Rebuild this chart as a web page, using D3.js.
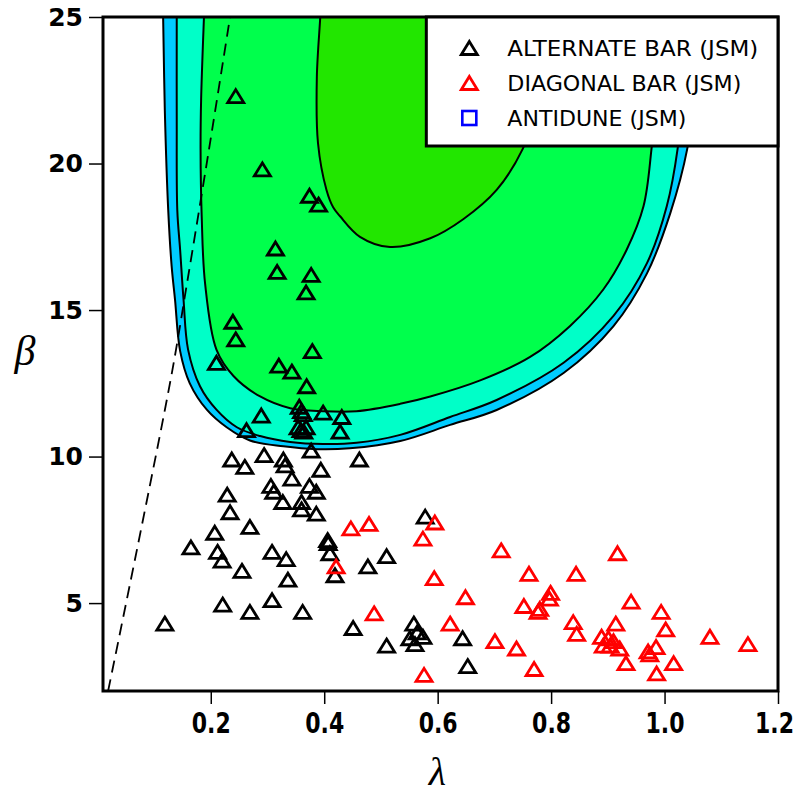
<!DOCTYPE html>
<html>
<head>
<meta charset="utf-8">
<script src="https://cdn.jsdelivr.net/npm/d3@7"></script>
<style>
  body { margin: 0; background: #fff; }
</style>
</head>
<body>
<div class="canvas"></div>
<script>
// ---- data (lambda, beta) ----
const alternateBar = [
  [0.244, 22.3], [0.291, 19.8], [0.374, 18.9], [0.390, 18.6], [0.314, 17.1],
  [0.317, 16.3], [0.377, 16.2], [0.368, 15.6], [0.239, 14.6], [0.244, 14.0],
  [0.210, 13.2], [0.379, 13.6], [0.320, 13.1], [0.343, 12.9], [0.369, 12.4],
  [0.289, 11.4], [0.263, 10.9], [0.356, 11.7], [0.360, 11.55], [0.363, 11.45],
  [0.398, 11.5], [0.431, 11.35], [0.428, 10.85], [0.354, 11.0], [0.359, 10.9],
  [0.364, 10.85], [0.368, 11.0], [0.377, 10.2], [0.237, 9.9], [0.260, 9.65],
  [0.294, 10.05], [0.328, 9.9], [0.331, 9.7], [0.343, 9.25], [0.462, 9.9],
  [0.394, 9.55], [0.306, 9.0], [0.311, 8.8], [0.327, 8.45], [0.374, 9.0],
  [0.386, 8.8], [0.360, 8.45], [0.360, 8.2], [0.386, 8.05], [0.229, 8.7],
  [0.234, 8.1], [0.269, 7.6], [0.207, 7.4], [0.165, 6.9], [0.212, 6.75],
  [0.220, 6.45], [0.255, 6.1], [0.308, 6.75], [0.333, 6.5], [0.336, 5.8],
  [0.406, 7.15], [0.407, 7.05], [0.410, 6.7], [0.419, 5.95], [0.477, 6.25],
  [0.510, 6.6], [0.578, 7.95], [0.221, 4.95], [0.269, 4.7], [0.308, 5.1],
  [0.362, 4.7], [0.119, 4.3], [0.451, 4.15], [0.510, 3.55], [0.558, 4.3],
  [0.564, 4.0], [0.574, 3.85], [0.551, 3.8], [0.560, 3.6], [0.644, 3.8],
  [0.653, 2.85]
];
const diagonalBar = [
  [0.421, 6.25], [0.447, 7.55], [0.479, 7.7], [0.595, 7.75], [0.574, 7.2],
  [0.594, 5.85], [0.488, 4.65], [0.576, 2.55], [0.622, 4.3], [0.649, 5.2],
  [0.701, 3.7], [0.712, 6.8], [0.739, 3.45], [0.752, 4.9], [0.761, 6.0],
  [0.770, 2.75], [0.777, 4.7], [0.780, 4.8], [0.799, 5.35], [0.797, 5.15],
  [0.839, 4.35], [0.844, 6.0], [0.845, 3.95], [0.889, 3.85], [0.901, 3.8],
  [0.910, 3.7], [0.892, 3.55], [0.904, 3.55], [0.921, 3.45], [0.914, 4.3],
  [0.917, 6.7], [0.941, 5.05], [0.932, 2.95], [0.971, 3.35], [0.974, 3.25],
  [0.985, 3.5], [0.986, 2.6], [0.994, 4.7], [1.002, 4.1], [1.016, 2.95],
  [1.080, 3.85], [1.147, 3.6]
];
const antidune = []; // none fall inside the plotted window

// contour boundaries, traced from the top-left branch round to the top-right branch
const contourOuter = [
  [0.115, 25.5], [0.116, 25.0], [0.119, 21.8], [0.125, 18.4], [0.131, 16.5],
  [0.137, 15.35], [0.146, 13.6], [0.163, 12.5], [0.193, 11.6], [0.228, 11.0],
  [0.269, 10.55], [0.328, 10.35], [0.387, 10.25], [0.445, 10.28], [0.534, 10.53],
  [0.622, 11.08], [0.704, 11.59], [0.822, 12.85], [0.910, 14.45], [0.969, 16.25],
  [1.010, 18.3], [1.040, 20.5], [1.055, 22.85], [1.064, 25.0], [1.068, 25.5]
];
const contourBlueCyan = [
  [0.140, 25.5], [0.140, 25.0], [0.140, 21.5], [0.141, 18.4], [0.146, 17.05],
  [0.152, 15.35], [0.160, 13.65], [0.181, 12.4], [0.210, 11.6], [0.246, 11.0],
  [0.287, 10.7], [0.340, 10.5], [0.398, 10.43], [0.457, 10.47], [0.534, 10.74],
  [0.622, 11.35], [0.704, 11.93], [0.822, 13.2], [0.910, 14.8], [0.969, 16.6],
  [1.004, 18.55], [1.023, 20.5], [1.034, 22.85], [1.041, 25.0], [1.044, 25.5]
];
const contourCyanGreen = [
  [0.189, 25.5], [0.188, 25.0], [0.183, 22.2], [0.182, 20.5], [0.184, 18.2],
  [0.190, 15.9], [0.210, 13.65], [0.240, 12.75], [0.287, 12.05], [0.340, 11.65],
  [0.398, 11.55], [0.457, 11.55], [0.534, 11.8], [0.587, 12.05], [0.675, 12.6],
  [0.763, 13.4], [0.833, 14.45], [0.892, 15.7], [0.933, 17.05], [0.963, 18.55],
  [0.977, 20.5], [0.988, 22.85], [0.996, 25.0], [0.998, 25.5]
];
const contourInner = [
  [0.394, 25.5], [0.393, 25.0], [0.387, 22.95], [0.389, 20.7], [0.404, 19.1],
  [0.416, 18.5], [0.428, 18.2], [0.463, 17.5], [0.516, 17.15], [0.587, 17.45],
  [0.645, 18.1], [0.704, 19.1], [0.750, 20.5], [0.780, 22.2], [0.798, 23.9],
  [0.807, 25.0], [0.810, 25.5]
];
const dashedCurve = [
  [0.019, 2.0], [0.129, 12.6], [0.158, 15.9], [0.197, 20.5], [0.234, 25.0]
];

const xTicks = [0.2, 0.4, 0.6, 0.8, 1.0, 1.2];
const yTicks = [5, 10, 15, 20, 25];
const legendLabels = ['ALTERNATE BAR (JSM)', 'DIAGONAL BAR (JSM)', 'ANTIDUNE (JSM)'];
const legendWidths = [251, 234, 179];

// ---- layout ----
const margin = { top: 17, right: 18, bottom: 110, left: 103 };
const graphWidth = 796 - margin.left - margin.right;   // 675
const graphHeight = 801 - margin.top - margin.bottom;  // 674

const svg = d3.select('.canvas')
  .append('svg')
  .attr('width', 796)
  .attr('height', 801);

const graph = svg.append('g')
  .attr('transform', `translate(${margin.left},${margin.top})`);

const xScale = d3.scaleLinear().domain([0.01, 1.2]).range([0, graphWidth]);
const yScale = d3.scaleLinear().domain([2, 25]).range([graphHeight, 0]);

svg.append('defs').append('clipPath').attr('id', 'plot-clip')
  .append('rect').attr('width', graphWidth).attr('height', graphHeight);

const plot = graph.append('g').attr('clip-path', 'url(#plot-clip)');

// filled contour bands
const curve = d3.line()
  .x(d => xScale(d[0]))
  .y(d => yScale(d[1]))
  .curve(d3.curveCatmullRom.alpha(0.5));

const bands = [
  { pts: contourOuter, fill: '#00ccff' },
  { pts: contourBlueCyan, fill: '#00ffc8' },
  { pts: contourCyanGreen, fill: '#00ff4c' },
  { pts: contourInner, fill: '#22e600' }
];
plot.selectAll('path.band')
  .data(bands)
  .enter()
  .append('path')
  .attr('class', 'band')
  .attr('d', d => curve(d.pts) + 'Z')
  .attr('fill', d => d.fill)
  .attr('stroke', '#000')
  .attr('stroke-width', 2);

// dashed boundary
plot.append('path')
  .attr('d', curve(dashedCurve))
  .attr('fill', 'none')
  .attr('stroke', '#000')
  .attr('stroke-width', 1.8)
  .attr('stroke-dasharray', '12,7');

// open triangle marker, centred on its bounding box
const tri = (w, h) => `M0,${-h / 2}L${w / 2},${h / 2}L${-w / 2},${h / 2}Z`;

const drawPoints = (data, colour) => {
  plot.append('g').selectAll('path')
    .data(data)
    .enter()
    .append('path')
    .attr('d', tri(16, 13))
    .attr('transform', d => `translate(${xScale(d[0])},${yScale(d[1])})`)
    .attr('fill', 'none')
    .attr('stroke', colour)
    .attr('stroke-width', 2.8);
};
drawPoints(alternateBar, '#000');
drawPoints(diagonalBar, '#ff0000');
plot.append('g').selectAll('rect')
  .data(antidune)
  .enter()
  .append('rect')
  .attr('x', d => xScale(d[0]) - 7).attr('y', d => yScale(d[1]) - 7)
  .attr('width', 14).attr('height', 14)
  .attr('fill', 'none').attr('stroke', '#0000ff').attr('stroke-width', 2.6);

// axes
const xAxis = d3.axisBottom(xScale).tickValues(xTicks).tickSize(13).tickPadding(6)
  .tickFormat(d3.format('.1f'));
const yAxis = d3.axisLeft(yScale).tickValues(yTicks).tickSize(14).tickPadding(6)
  .tickFormat(d3.format('d'));

const xAxisGroup = graph.append('g')
  .attr('transform', `translate(0,${graphHeight})`)
  .call(xAxis);
const yAxisGroup = graph.append('g').call(yAxis);

[xAxisGroup, yAxisGroup].forEach(g => {
  g.select('.domain').remove();
  g.attr('font-family', null).attr('font-size', null);
  g.selectAll('line').attr('stroke', '#000').attr('stroke-width', 1.5);
});
// condensed bold labels along the bottom
xAxisGroup.selectAll('text')
  .attr('fill', '#000')
  .attr('font-family', '"DejaVu Sans", sans-serif')
  .attr('font-weight', 'bold')
  .attr('font-size', 29)
  .attr('dy', '0.78em')
  .attr('transform', (d, i) => `translate(${i === xTicks.length - 1 ? -4 : 0},0) scale(0.76,1)`);
yAxisGroup.selectAll('text')
  .attr('fill', '#000')
  .attr('font-family', '"DejaVu Sans", sans-serif')
  .attr('font-weight', 'bold')
  .attr('font-size', 25);

// frame
graph.append('rect')
  .attr('width', graphWidth)
  .attr('height', graphHeight)
  .attr('fill', 'none')
  .attr('stroke', '#000')
  .attr('stroke-width', 3);

// axis titles
svg.append('text')
  .attr('x', margin.left + graphWidth / 2 - 3)
  .attr('y', 785)
  .attr('text-anchor', 'middle')
  .style('font-family', '"Liberation Serif", "DejaVu Serif", serif')
  .style('font-style', 'italic')
  .style('font-size', '40px')
  .text('λ');
svg.append('text')
  .attr('x', 25)
  .attr('y', 365)
  .attr('text-anchor', 'middle')
  .style('font-family', '"Liberation Serif", "DejaVu Serif", serif')
  .style('font-style', 'italic')
  .style('font-size', '42px')
  .text('β');

// legend
const legend = graph.append('g')
  .attr('transform', `translate(${xScale(0.58)},0)`);
const legendW = graphWidth - xScale(0.58);
legend.append('rect')
  .attr('width', legendW)
  .attr('height', 129)
  .attr('fill', '#fff')
  .attr('stroke', '#000')
  .attr('stroke-width', 3);

const rows = legend.selectAll('g.row')
  .data(legendLabels)
  .enter()
  .append('g')
  .attr('class', 'row')
  .attr('transform', (d, i) => `translate(0,${31 + i * 35})`);

rows.each(function (d, i) {
  const row = d3.select(this);
  if (i < 2) {
    row.append('path')
      .attr('d', tri(16, 13))
      .attr('transform', 'translate(43,0)')
      .attr('fill', 'none')
      .attr('stroke', i === 0 ? '#000' : '#ff0000')
      .attr('stroke-width', 2.8);
  } else {
    row.append('rect')
      .attr('x', 36).attr('y', -7)
      .attr('width', 14).attr('height', 14)
      .attr('fill', 'none')
      .attr('stroke', '#0000ff')
      .attr('stroke-width', 2.6);
  }
  row.append('text')
    .attr('x', 81)
    .attr('y', 8)
    .attr('textLength', legendWidths[i])
    .attr('lengthAdjust', 'spacingAndGlyphs')
    .style('font-family', '"DejaVu Sans", sans-serif')
    .style('font-size', '22px')
    .text(d);
});
</script>
</body>
</html>
